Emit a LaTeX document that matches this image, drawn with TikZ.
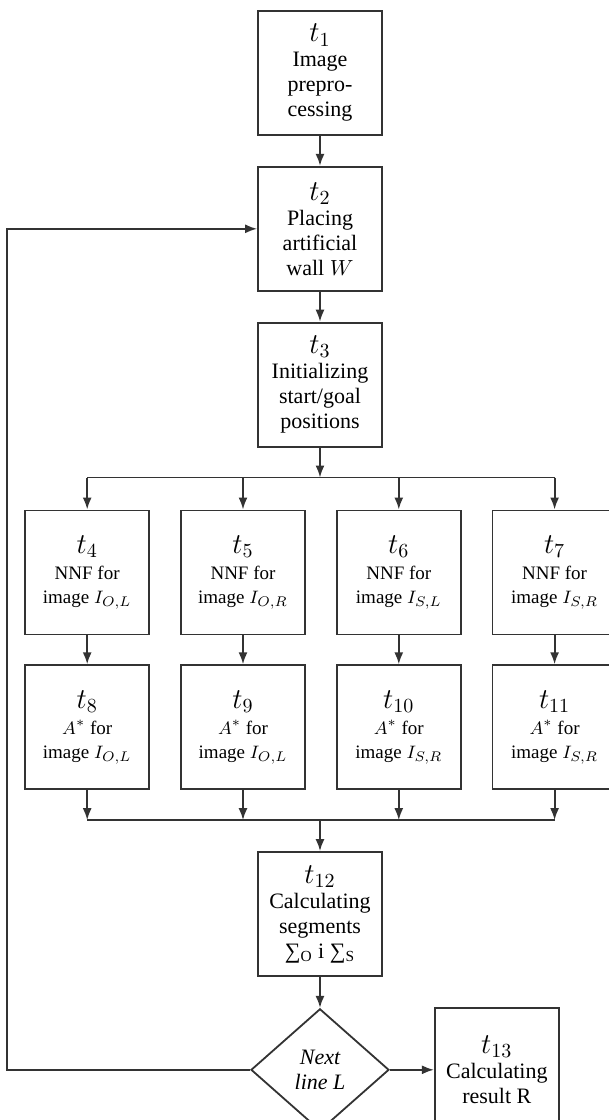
\documentclass[tikz,border=0pt]{standalone}
\usepackage{amsmath,amssymb}
\usepackage{fontspec}
\setmainfont{Liberation Serif}
\usepackage{tikz}
\usetikzlibrary{shapes.geometric, arrows.meta, positioning}
\definecolor{linegray}{rgb}{0.2,0.2,0.2}
\newcommand{\tlabel}[1]{{\fontsize{14.5}{14.5}\selectfont$t_{#1}$}}

\begin{document}
\begin{tikzpicture}[
    node distance=15pt and 15pt,
    box/.style={rectangle, draw=linegray, line width=0.9pt, minimum width=62pt, minimum height=62pt, inner sep=1pt, align=center, font=\fontsize{11}{12.5}\selectfont},
    smallbox/.style={box, font=\fontsize{9.5}{12}\selectfont},
    decision/.style={diamond, draw=linegray, line width=0.9pt, minimum width=69pt, minimum height=61pt, inner sep=0pt, align=center, font=\fontsize{11}{12.5}\selectfont\itshape},
    flow/.style={draw=linegray, line width=0.9pt, -{Latex[length=6pt,width=4.5pt]}}
]
    \useasboundingbox (-160pt,-523.5pt) rectangle (144.5pt,36.5pt);

    \node[box] (t1) {\tlabel{1}\\ Image\\ prepro-\\ cessing};
    \node[box, below=of t1] (t2) {\tlabel{2}\\ Placing\\ artificial\\ wall $W$};
    \node[box, below=of t2] (t3) {\tlabel{3}\\ Initializing\\ start/goal\\ positions};

    % NNF row
    \node[smallbox, below=31pt of t3, xshift=-38.5pt] (t5) {\tlabel{5}\\[1pt] NNF for\\ image $I_{O,R}$};
    \node[smallbox, left=of t5] (t4) {\tlabel{4}\\[1pt] NNF for\\ image $I_{O,L}$};
    \node[smallbox, right=of t5] (t6) {\tlabel{6}\\[1pt] NNF for\\ image $I_{S,L}$};
    \node[smallbox, right=of t6] (t7) {\tlabel{7}\\[1pt] NNF for\\ image $I_{S,R}$};

    % A* row
    \node[smallbox, below=14.5pt of t4] (t8) {\tlabel{8}\\[1pt] $A^{*}$ for\\ image $I_{O,L}$};
    \node[smallbox, below=14.5pt of t5] (t9) {\tlabel{9}\\[1pt] $A^{*}$ for\\ image $I_{O,L}$};
    \node[smallbox, below=14.5pt of t6] (t10) {\tlabel{10}\\[1pt] $A^{*}$ for\\ image $I_{S,R}$};
    \node[smallbox, below=14.5pt of t7] (t11) {\tlabel{11}\\[1pt] $A^{*}$ for\\ image $I_{S,R}$};

    \node[box, below=30.5pt of t9, xshift=38.5pt] (t12) {\tlabel{12}\\ Calculating\\ segments\\ ∑\textsubscript{O} i ∑\textsubscript{S}};
    \node[decision, below=15.5pt of t12] (next) {Next\\ line L};
    \node[box, right=22pt of next] (t13) {\tlabel{13}\\ Calculating\\ result R};

    \coordinate[below=15pt of t3] (split);
    \coordinate[above=15.5pt of t12] (merge);
    \coordinate[left=8.5pt of t4.west] (loop);

    \path[flow] (t1) -- (t2);
    \path[flow] (t2) -- (t3);
    \path[flow] (t3) -- (split);
    \path[draw=linegray, line width=0.9pt] (split -| t4) -- (split -| t7);
    \foreach \n in {t4,t5,t6,t7}
        \path[flow] (split -| \n) -- (\n);
    \foreach \a/\b in {t4/t8,t5/t9,t6/t10,t7/t11}
        \path[flow] (\a) -- (\b);
    \foreach \n in {t8,t9,t10,t11}
        \path[flow] (\n) -- (\n |- merge);
    \path[draw=linegray, line width=0.9pt] (merge -| t8) -- (merge -| t11);
    \path[flow] (merge) -- (t12);
    \path[flow] (t12) -- (next);
    \path[flow] (next) -- (t13);

    % back to t2 for the next line
    \path[flow] (next.west) -- (next.west -| loop) -- (t2.west -| loop) -- (t2.west);
\end{tikzpicture}
\end{document}
